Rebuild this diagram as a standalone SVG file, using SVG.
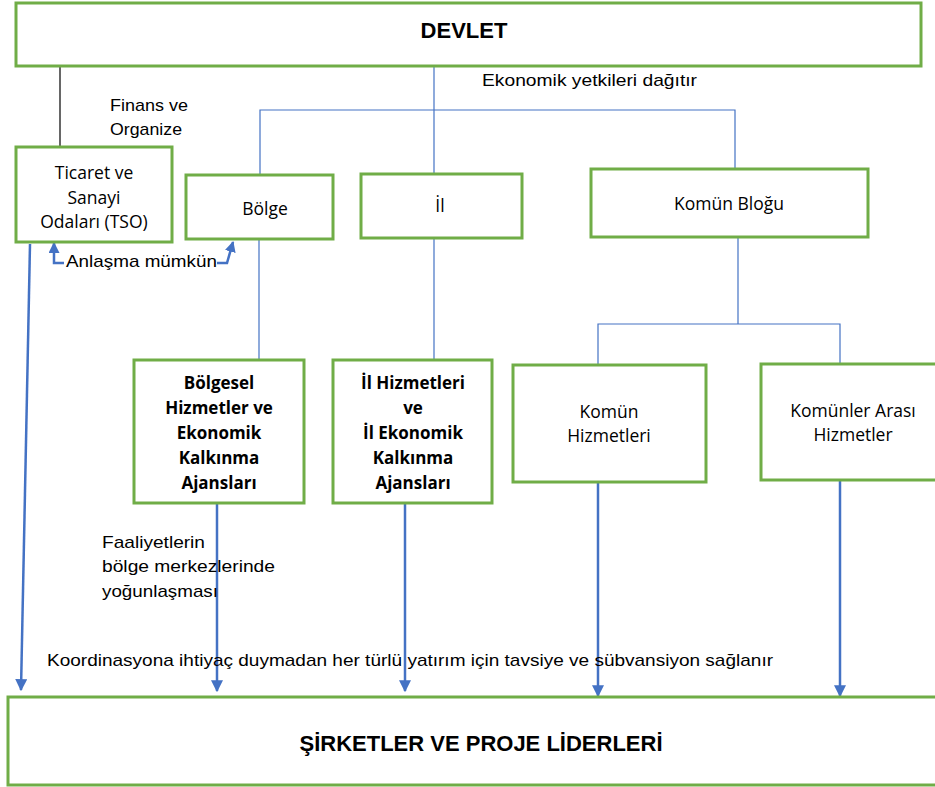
<svg xmlns="http://www.w3.org/2000/svg" width="935" height="787" viewBox="0 0 935 787">
<defs>
<style>
.box{fill:#fff;stroke:#70AD47;stroke-width:3}
.t{font-family:"Open Sans","DejaVu Sans",sans-serif;font-size:17.5px;fill:#000;text-anchor:middle;dominant-baseline:central}
.tb{font-family:"Open Sans","DejaVu Sans",sans-serif;font-size:17px;font-weight:bold;fill:#000;text-anchor:middle;dominant-baseline:central}
.big{font-family:"Liberation Sans",Arial,sans-serif;font-size:22px;font-weight:bold;fill:#000;text-anchor:middle;dominant-baseline:central}
.lab{font-family:"Liberation Sans",Arial,sans-serif;font-size:17px;fill:#000;dominant-baseline:central}
.thin{fill:none;stroke:#4472C4;stroke-width:1.2}
.thick{fill:none;stroke:#4472C4;stroke-width:2.5}
</style>
<marker id="ah" viewBox="0 0 10 10" refX="9" refY="5" markerWidth="12" markerHeight="12" markerUnits="userSpaceOnUse" orient="auto">
<path d="M0,0 L10,5 L0,10 Z" fill="#4472C4"/>
</marker>
<marker id="ahs" viewBox="0 0 10 10" refX="9" refY="5" markerWidth="11" markerHeight="11" markerUnits="userSpaceOnUse" orient="auto">
<path d="M0,0 L10,5 L0,10 Z" fill="#4472C4"/>
</marker>
</defs>
<rect width="935" height="787" fill="#fff"/>

<g id="connectors">
<line x1="60" y1="66" x2="60" y2="147" stroke="#000" stroke-width="1.2"/>
<line class="thin" x1="434" y1="66" x2="434" y2="174"/>
<polyline class="thin" points="260,175 260,110 735,110 735,168"/>
<line class="thin" x1="259" y1="239" x2="259" y2="360"/>
<line class="thin" x1="434" y1="238" x2="434" y2="360"/>
<line class="thin" x1="738" y1="237" x2="738" y2="324"/>
<polyline class="thin" points="598,364 598,324 840,324 840,363"/>
<path class="thick" d="M64,263 H54 V243" marker-end="url(#ahs)"/>
<path class="thick" d="M217,263 H227 L233,242" marker-end="url(#ahs)"/>
<line class="thick" x1="30" y1="244" x2="21" y2="690" marker-end="url(#ah)"/>
<line class="thick" x1="217" y1="503" x2="217" y2="691" marker-end="url(#ah)"/>
<line class="thick" x1="405" y1="503" x2="405" y2="691" marker-end="url(#ah)"/>
<line class="thick" x1="598" y1="482" x2="598" y2="696" marker-end="url(#ah)"/>
<line class="thick" x1="840" y1="480" x2="840" y2="696" marker-end="url(#ah)"/>
</g>

<g id="labels">
<text class="lab" x="482" y="80" textLength="215" lengthAdjust="spacingAndGlyphs">Ekonomik yetkileri dağıtır</text>
<text class="lab" x="110" y="105" textLength="78" lengthAdjust="spacingAndGlyphs">Finans ve</text>
<text class="lab" x="110" y="129" textLength="72" lengthAdjust="spacingAndGlyphs">Organize</text>
<text class="lab" x="66" y="261" textLength="151" lengthAdjust="spacingAndGlyphs">Anlaşma mümkün</text>
<text class="lab" x="102" y="542" textLength="103" lengthAdjust="spacingAndGlyphs">Faaliyetlerin</text>
<text class="lab" x="102" y="566" textLength="173" lengthAdjust="spacingAndGlyphs">bölge merkezlerinde</text>
<text class="lab" x="102" y="591" textLength="116" lengthAdjust="spacingAndGlyphs">yoğunlaşması</text>
<text class="lab" x="47" y="660" textLength="726" lengthAdjust="spacingAndGlyphs">Koordinasyona ihtiyaç duymadan her türlü yatırım için tavsiye ve sübvansiyon sağlanır</text>
</g>

<g id="devlet">
<rect class="box" x="16" y="3" width="905" height="63"/>
<text class="big" x="464" y="30">DEVLET</text>
</g>
<g id="tso">
<rect class="box" x="16" y="147" width="156" height="95"/>
<text class="t" x="94" y="172">Ticaret ve</text>
<text class="t" x="94" y="197">Sanayi</text>
<text class="t" x="94" y="221">Odaları (TSO)</text>
</g>
<g id="bolge">
<rect class="box" x="186" y="175" width="147" height="64"/>
<text class="t" x="265" y="208">Bölge</text>
</g>
<g id="il">
<rect class="box" x="361" y="174" width="161" height="64"/>
<text class="t" x="440" y="205">İl</text>
</g>
<g id="komun-blogu">
<rect class="box" x="591" y="169" width="277" height="68"/>
<text class="t" x="729" y="203">Komün Bloğu</text>
</g>
<g id="bolgesel">
<rect class="box" x="134" y="360" width="170" height="143"/>
<text class="tb" x="219" y="382">Bölgesel</text>
<text class="tb" x="219" y="407">Hizmetler ve</text>
<text class="tb" x="219" y="432">Ekonomik</text>
<text class="tb" x="219" y="457">Kalkınma</text>
<text class="tb" x="219" y="482">Ajansları</text>
</g>
<g id="il-hizmetleri">
<rect class="box" x="333" y="360" width="159" height="143"/>
<text class="tb" x="413" y="382">İl Hizmetleri</text>
<text class="tb" x="413" y="407">ve</text>
<text class="tb" x="413" y="432">İl Ekonomik</text>
<text class="tb" x="413" y="457">Kalkınma</text>
<text class="tb" x="413" y="482">Ajansları</text>
</g>
<g id="komun-hizmetleri">
<rect class="box" x="513" y="365" width="193" height="117"/>
<text class="t" x="609" y="411">Komün</text>
<text class="t" x="609" y="435">Hizmetleri</text>
</g>
<g id="komunler-arasi">
<rect class="box" x="761" y="364" width="180" height="116"/>
<text class="t" x="853" y="410">Komünler Arası</text>
<text class="t" x="853" y="434">Hizmetler</text>
</g>
<g id="sirketler">
<rect class="box" x="8" y="697" width="940" height="88"/>
<text class="big" x="481" y="743">ŞİRKETLER VE PROJE LİDERLERİ</text>
</g>
</svg>
